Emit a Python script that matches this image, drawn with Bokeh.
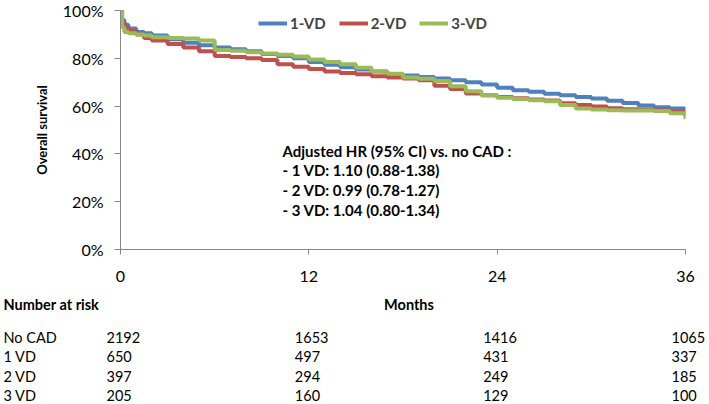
from bokeh.plotting import figure
from bokeh.models import Range1d, FixedTicker, PrintfTickFormatter, Label, Legend, LegendItem, ColumnDataSource
from bokeh.core.properties import value
from bokeh.embed import file_html
from bokeh.resources import INLINE

# ---------------- data ----------------
months = [0, 0.1, 0.25, 0.5, 1, 1.5, 2, 3, 4, 5, 6, 7, 8, 9, 10, 11, 12, 13, 14, 15, 16,
          17, 18, 19, 20, 21, 22, 23, 24, 25, 26, 27, 28, 29, 30, 31, 32, 33, 34, 35, 36]
surv_1vd = [100, 96, 94, 92.5, 91, 90.5, 89.5, 88, 86.5, 85.5, 84.5, 83.8, 83, 81.8, 81, 80,
            78.5, 77.3, 76.3, 75.3, 74.5, 73.3, 72.8, 72.2, 71.6, 70.8, 70, 69, 67.7, 66.6,
            66, 65.2, 64.5, 63.8, 63.2, 62.2, 61.3, 60.2, 59.5, 59, 58.4]
surv_2vd = [100, 95, 93, 91.5, 90, 88.5, 87.5, 86, 84.5, 83, 81, 80.5, 80, 79.3, 77.5, 76.5,
            75.5, 74.5, 73.8, 73.3, 72.5, 72, 71.5, 70.8, 68.5, 67.2, 65.3, 64.5, 63.8, 63.3,
            62.8, 62.3, 61.2, 60.5, 59.8, 59.1, 58.7, 58.6, 58.3, 57.5, 55.6]
surv_3vd = [100, 93, 91, 90.5, 90, 89.5, 88.8, 88.5, 88.3, 87.5, 83.5, 83.2, 82.5, 82, 81.5,
            80.8, 79.5, 78.5, 77.5, 76, 74.5, 73.5, 72, 71.4, 70.5, 68.3, 66.2, 64.5, 63.5, 63,
            62.5, 62, 60.5, 59, 58.6, 58.3, 58.2, 58.2, 58, 57, 54.6]
series_names = ["1-VD", "2-VD", "3-VD"]
series_colors = ["#4F81BD", "#C0504D", "#9BBB59"]

y_ticks = [0, 20, 40, 60, 80, 100]
x_ticks = [0, 12, 24, 36]

hr_lines = ["Adjusted HR (95% CI) vs. no CAD :",
            "- 1 VD: 1.10 (0.88-1.38)",
            "- 2 VD: 0.99 (0.78-1.27)",
            "- 3 VD: 1.04 (0.80-1.34)"]

risk_groups = ["No CAD", "1 VD", "2 VD", "3 VD"]
risk_months = [0, 12, 24, 36]
risk_counts = [[2192, 1653, 1416, 1065],
               [650, 497, 431, 337],
               [397, 294, 249, 185],
               [205, 160, 129, 100]]

FONT = "Lato"
AXIS_COLOR = "#868686"

# ---------------- layout constants (pixels) ----------------
W = 709
FRAME_L, FRAME_R = 120, 685          # plot frame left / right edge
TOP_H = 290                          # height of the curve figure
TABLE_H = 404 - TOP_H                # height of the at-risk table figure
px_per_month = (FRAME_R - FRAME_L) / 36.0

# ---------------- curve figure ----------------
p = figure(width=W, height=TOP_H, output_backend="svg", toolbar_location=None,
           x_range=Range1d(0, 36), y_range=Range1d(0, 100),
           min_border_left=FRAME_L, min_border_right=W - FRAME_R,
           min_border_top=10, min_border_bottom=TOP_H - 249)
p.grid.visible = False
p.outline_line_color = None

renderers = []
for surv, color in zip([surv_1vd, surv_2vd, surv_3vd], series_colors):
    r = p.step(months, surv, mode="after", line_width=4, line_color=color)
    renderers.append(r)

p.yaxis.ticker = FixedTicker(ticks=y_ticks)
p.yaxis.formatter = PrintfTickFormatter(format="%d%%")
p.xaxis.ticker = FixedTicker(ticks=x_ticks)
for ax in (p.xaxis[0], p.yaxis[0]):
    ax.axis_line_color = AXIS_COLOR
    ax.major_tick_line_color = AXIS_COLOR
    ax.minor_tick_line_color = None
    ax.major_tick_in = 0
    ax.major_label_text_font = FONT
    ax.major_label_text_font_size = "16px"
    ax.major_label_text_color = "black"
p.yaxis.major_tick_out = 6
p.xaxis.major_tick_out = 5
p.yaxis.major_label_standoff = 11
p.xaxis.major_label_standoff = 16
p.yaxis.axis_label = "Overall survival"
p.yaxis.axis_label_text_font = FONT
p.yaxis.axis_label_text_font_style = "bold"
p.yaxis.axis_label_text_font_size = "13px"
p.yaxis.axis_label_text_color = "black"
p.yaxis.axis_label_standoff = 10

legend = Legend(items=[LegendItem(label=n, renderers=[r]) for n, r in zip(series_names, renderers)],
                orientation="horizontal", location=(138, 216),
                glyph_width=29, glyph_height=20, label_height=20, label_standoff=3,
                spacing=13, padding=0, margin=0,
                label_text_font=FONT, label_text_font_style="bold", label_text_font_size="15px",
                background_fill_alpha=0, border_line_alpha=0)
p.add_layout(legend, "center")

for i, line in enumerate(hr_lines):
    p.add_layout(Label(x=162, y=99 - 19.7 * i, x_units="screen", y_units="screen", text=line,
                       text_font=FONT, text_font_style="bold", text_font_size="15px",
                       text_baseline="middle", text_align="left", text_color="black"))

# ---------------- number-at-risk table figure ----------------
row_px0, row_step = 47, 19.3         # first row centre (px from table top), row spacing
t = figure(width=W, height=TABLE_H, output_backend="svg", toolbar_location=None,
           x_range=Range1d(-FRAME_L / px_per_month, (W - FRAME_L) / px_per_month),
           y_range=Range1d((TABLE_H - row_px0) / row_step, -row_px0 / row_step),
           min_border=0, x_axis_type=None, y_axis_type=None)
t.grid.visible = False
t.outline_line_color = None

header_row = -1.71
t.text(x=[0], y=[header_row], text=["Number at risk"], x_offset=-117,
       text_font=value(FONT), text_font_style="bold", text_font_size="14.5px",
       text_baseline="middle", text_align="left", text_color="black")
t.text(x=[18], y=[header_row], text=["Months"], x_offset=6,
       text_font=value(FONT), text_font_style="bold", text_font_size="14.5px",
       text_baseline="middle", text_align="center", text_color="black")

t.text(x=[0] * len(risk_groups), y=list(range(len(risk_groups))), text=risk_groups, x_offset=-117,
       text_font=value(FONT), text_font_size="14.5px",
       text_baseline="middle", text_align="left", text_color="black")

xs, ys, txt = [], [], []
for gi, counts in enumerate(risk_counts):
    for m, c in zip(risk_months, counts):
        xs.append(m)
        ys.append(gi)
        txt.append(str(c))
src = ColumnDataSource(dict(x=xs, y=ys, text=txt))
t.text(x="x", y="y", text="text", source=src, x_offset=-14,
       text_font=value(FONT), text_font_size="14.5px",
       text_baseline="middle", text_align="left", text_color="black")

# two independent roots (stacked), so the table frame is not aligned to the curve frame
open("out.html", "w").write(file_html((p, t), INLINE))
